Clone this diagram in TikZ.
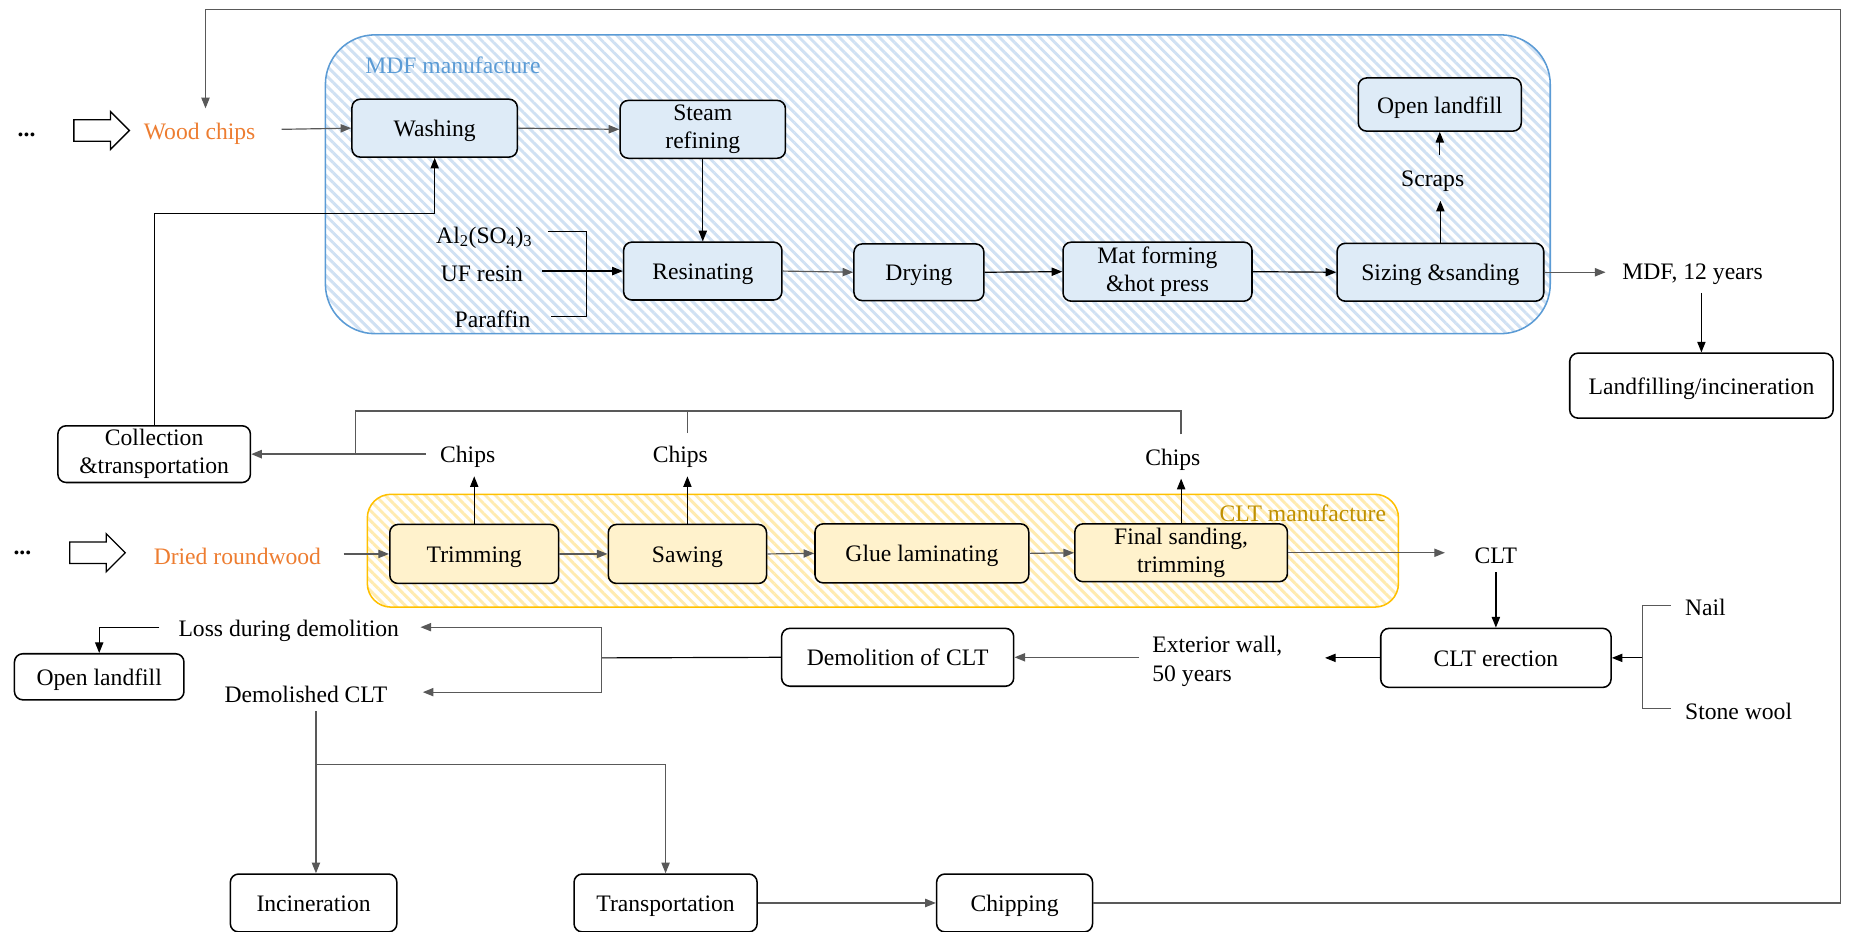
\documentclass[tikz,border=0pt]{standalone}
\usepackage{fontspec}
\setmainfont{Liberation Serif}
\usetikzlibrary{arrows.meta}
\usetikzlibrary{patterns.meta}
\usetikzlibrary{shapes.arrows}
\usetikzlibrary{calc}

\definecolor{mdfblue}{HTML}{5B9BD5}
\definecolor{mdffill}{HTML}{DEEBF7}
\definecolor{mdfhatch}{HTML}{D0E1F3}
\definecolor{cltgold}{HTML}{FFC000}
\definecolor{cltdark}{HTML}{BF9000}
\definecolor{cltfill}{HTML}{FFF2CC}
\definecolor{clthatch}{HTML}{FFEBB0}
\definecolor{woodorange}{HTML}{ED7D31}
\definecolor{linegray}{HTML}{595959}

\tikzset{
	proc/.style={draw, line width=1.3pt, rounded corners=7pt, align=center, inner sep=0pt, execute at begin node={\rule[-4.5pt]{0pt}{23.5pt}}},
	mdfproc/.style={proc, fill=mdffill},
	cltproc/.style={proc, fill=cltfill},
	endproc/.style={proc, fill=white},
	txt/.style={inner sep=0pt, align=center},
	flow/.style={line width=1pt},
	flowg/.style={line width=1pt, draw=linegray},
	hollow/.style={single arrow, draw, line width=1.1pt, inner sep=8.5pt, single arrow head extend=7pt, anchor=west},
}

\begin{document}
\begin{tikzpicture}[x=1pt,y=-1pt,>={Triangle[length=9pt,width=7pt]},font=\fontsize{20}{24}\selectfont]
	\useasboundingbox (0,0) rectangle (1568,789);

	% hatched areas
	\draw[mdfblue,line width=1.3pt,rounded corners=42pt,preaction={fill=white},pattern={Lines[angle=-45,distance=6pt,line width=2.5pt]},pattern color=mdfhatch] (275.5,29.5) rectangle (1312.5,282.5);
	\draw[cltgold,line width=1.3pt,rounded corners=20pt,preaction={fill=white},pattern={Lines[angle=-45,distance=6pt,line width=2.5pt]},pattern color=clthatch] (311,418.5) rectangle (1184,514);

	% MDF line
	\node[txt] (dotsa) at (22.5,114.5) {\textbf{...}};
	\node[hollow,minimum height=47pt] (harrowa) at (62,110.5) {};
	\node[txt,woodorange] (wc) at (169,113) {Wood chips};
	\node[txt,mdfblue] (mdfname) at (383.5,55.5) {MDF manufacture};
	\node[mdfproc,minimum width=140pt,minimum height=49pt] (wash) at (368,108.5) {Washing};
	\node[mdfproc,minimum width=140pt,minimum height=49pt] (steam) at (595,109.5) {Steam\\refining};
	\node[mdfproc,minimum width=134pt,minimum height=49pt] (resin) at (595,229.5) {Resinating};
	\node[mdfproc,minimum width=110pt,minimum height=48pt] (dry) at (778,230.5) {Drying};
	\node[mdfproc,minimum width=160pt,minimum height=50pt] (mat) at (980,230) {Mat forming\\\&hot press};
	\node[mdfproc,minimum width=175pt,minimum height=49pt] (size) at (1219.5,230.5) {Sizing \&sanding};
	\node[mdfproc,minimum width=138pt,minimum height=45pt] (olmdf) at (1219,88.5) {Open landfill};
	\node[txt] (scraps) at (1213,153) {Scraps};
	\node[txt] (al) at (410,201) {Al\textsubscript{2}(SO\textsubscript{4})\textsubscript{3}};
	\node[txt] (uf) at (408,232) {UF resin};
	\node[txt] (par) at (417,270) {Paraffin};
	\node[txt] (mdf) at (1433,232) {MDF, 12 years};
	\node[endproc,minimum width=223pt,minimum height=55pt] (landinc) at (1440.5,326.5) {Landfilling/incineration};
	\node[endproc,minimum width=163pt,minimum height=48pt] (collect) at (130.5,384.5) {Collection\\\&transportation};
	\node[txt] (chipsa) at (396,387) {Chips};
	\node[txt] (chipsb) at (576,387) {Chips};
	\node[txt] (chipsc) at (993,389) {Chips};

	% CLT line
	\node[txt] (dotsb) at (19,468) {\textbf{...}};
	\node[hollow,minimum height=47pt] (harrowb) at (58.5,468) {};
	\node[txt,woodorange] (dried) at (201,471.5) {Dried roundwood};
	\node[txt,cltdark] (cltname) at (1103,434.5) {CLT manufacture};
	\node[cltproc,minimum width=143pt,minimum height=50pt] (trim) at (401.5,469) {Trimming};
	\node[cltproc,minimum width=134pt,minimum height=50pt] (saw) at (582,469) {Sawing};
	\node[cltproc,minimum width=181pt,minimum height=50pt] (glue) at (780.5,468.5) {Glue laminating};
	\node[cltproc,minimum width=180pt,minimum height=49pt] (final) at (1000,468) {Final sanding,\\trimming};
	\node[txt] (clt) at (1266.5,470.5) {CLT};
	\node[endproc,minimum width=195pt,minimum height=50pt] (erect) at (1266.5,557) {CLT erection};
	\node[txt,anchor=west] (nail) at (1426.5,514.5) {Nail};
	\node[txt,anchor=west] (stone) at (1426.5,602) {Stone wool};
	\node[txt,align=left,anchor=west] (ext) at (975.5,560) {Exterior wall,\\50 years};
	\node[endproc,minimum width=196.5pt,minimum height=49pt] (demol) at (760,556.5) {Demolition of CLT};
	\node[txt] (loss) at (244.5,534) {Loss during demolition};
	\node[txt] (demolished) at (259,588) {Demolished CLT};
	\node[endproc,minimum width=143.5pt,minimum height=39pt] (olclt) at (84,573) {Open landfill};
	\node[endproc,minimum width=141pt,minimum height=49pt] (incin) at (265.5,764.5) {Incineration};
	\node[endproc,minimum width=155pt,minimum height=49pt] (transp) at (563.5,764.5) {Transportation};
	\node[endproc,minimum width=132pt,minimum height=49pt] (chip) at (859,764.5) {Chipping};

	\coordinate (fbr) at (1558,8);
	\coordinate (brka) at (496.5,230);
	\coordinate (chtop) at (301,348);
	\coordinate (brkb) at (1390.5,557);
	\coordinate (brkc) at (509,557);
	\coordinate (brkd) at (267.5,647.5);

	% MDF flows
	\draw[flowg,->] (chip.east) -| (fbr) -| ([xshift=5pt,yshift=12pt]wc.north);
	\draw[flowg,->] ($(wc.east |- wash.west)+(22,1)$) -- (wash.west);
	\draw[flowg,->] (wash.east) -- (steam.west);
	\draw[flow,->] (steam.south) -- (resin.north);
	\draw[flow] ([xshift=13pt,yshift=5pt]al.east) -| (brka) |- ([xshift=17pt,yshift=2pt]par.east);
	\draw[flow,->] ($(uf.east |- resin.west)+(16,0)$) -- (resin.west);
	\draw[flowg,->] (resin.east) -- (dry.west);
	\draw[flow,->] (dry.east) -- (mat.west);
	\draw[flow,->] (mat.east) -- (size.west);
	\draw[flow,->,shorten >=8pt] (size.north) -- (size.north |- scraps.south);
	\draw[flow,->,shorten <=13pt] (olmdf.south |- scraps.north) -- (olmdf.south);
	\draw[flowg,->,shorten >=14pt] (size.east) -- (size.east -| mdf.west);
	\draw[flow,->,shorten <=7pt] (landinc.north |- mdf.south) -- (landinc.north);
	\draw[flow,->] (collect.north) |- ($(wash.south)+(0,47)$) -- (wash.south);

	% chips back to collection
	\draw[flowg,line width=1.4pt,->] ($(chipsa.west |- collect.east)+(-12,0)$) -- (collect.east);
	\draw[flowg,line width=1.4pt,shorten <=12pt] (final.north |- chipsc.north) |- (chtop) -- (chtop |- collect.east);
	\draw[flowg,shorten <=11pt] (saw.north |- chipsb.north) -- (saw.north |- chtop);
	\draw[flow,->,shorten >=7pt] (trim.north) -- (trim.north |- chipsa.south);
	\draw[flow,->,shorten >=7pt] (saw.north) -- (saw.north |- chipsb.south);
	\draw[flow,->,shorten >=7pt] (final.north) -- (final.north |- chipsc.south);

	% CLT flows
	\draw[flowg,->] ($(dried.east |- trim.west)+(19,0)$) -- (trim.west);
	\draw[flowg,->] (trim.east) -- (saw.west);
	\draw[flowg,->] (saw.east) -- (glue.west);
	\draw[flowg,->] (glue.east) -- (final.west);
	\draw[flowg,->,shorten >=25pt] (final.east) -- (final.east -| clt.west);
	\draw[flow,->,shorten <=7pt] (clt.south) -- (erect.north);
	\draw[flowg] ([xshift=-12pt,yshift=2pt]nail.west) -| (brkb) |- ([xshift=-12pt,yshift=2pt]stone.west);
	\draw[flow,->] (brkb) -- (erect.east);
	\draw[flow,->,shorten >=36pt] (erect.west) -- (erect.west -| ext.east);
	\draw[flowg,->,shorten <=11pt] (demol.east -| ext.west) -- (demol.east);
	\draw[flow] (demol.west) -- (brkc);
	\draw[flowg,->] (brkc) |- ([xshift=18pt,yshift=3pt]loss.east);
	\draw[flowg,->] (brkc) |- ([xshift=30pt,yshift=2pt]demolished.east);
	\draw[flow,->] ([xshift=-16pt,yshift=3pt]loss.west) -| (olclt.north);
	\draw[flowg,->,shorten <=7pt] (brkd |- demolished.south) -- (brkd |- incin.north);
	\draw[flowg,->] (brkd) -| (transp.north);
	\draw[flowg,->] (transp.east) -- (chip.west);
\end{tikzpicture}
\end{document}
